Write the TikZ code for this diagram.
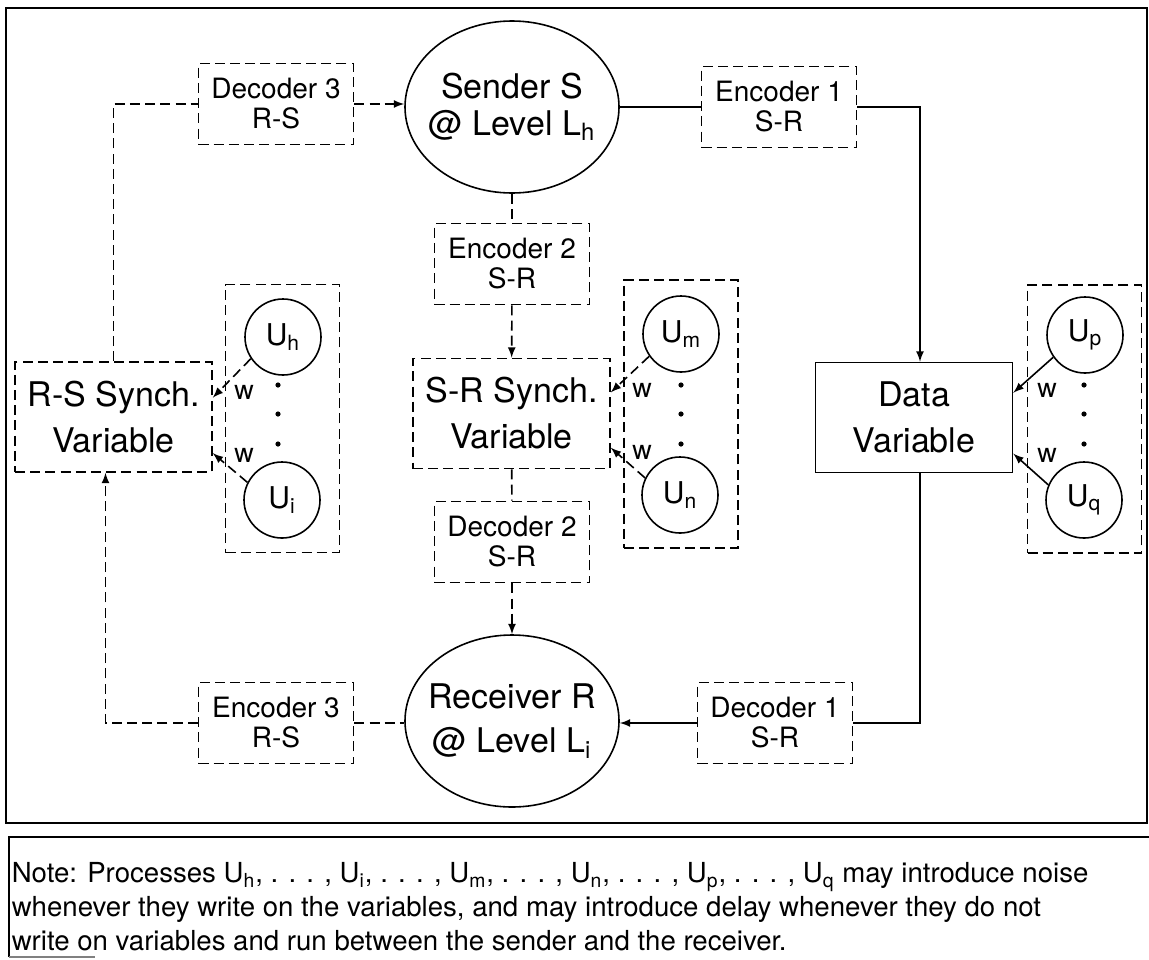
\documentclass[tikz,border=0pt]{standalone}
\usepackage{fontspec}
\setmainfont{TeX Gyre Heros}
\usetikzlibrary{shapes.geometric}

\begin{document}
\begin{tikzpicture}
    [
    x=0.5pt, y=-0.5pt,
    line width=0.8pt,
    dsh/.style={dash pattern=on 5pt off 2.6pt},
    proc/.style={ellipse,draw,minimum width=107pt,minimum height=86pt,inner xsep=-8pt,inner ysep=0pt,align=center,font=\fontsize{17}{22}\selectfont},
    coder/.style={rectangle,draw,dsh,minimum width=77.5pt,minimum height=40.5pt,inner sep=2pt,align=center,font=\fontsize{14}{15}\selectfont},
    var/.style={rectangle,draw,minimum width=98.5pt,minimum height=55pt,inner sep=2pt,align=center,font=\fontsize{17}{23}\selectfont},
    group/.style={rectangle,draw,dsh,minimum width=57pt,minimum height=134pt,inner sep=0pt},
    user/.style={circle,draw,minimum size=38pt,inner sep=0pt,font=\fontsize{15}{15}\selectfont},
    wlab/.style={inner sep=0pt,font=\fontsize{13.5}{13.5}\selectfont}
    ]
    \useasboundingbox (0,0) rectangle (1149,959);
    \draw [line width=1.2pt] (6,8) rectangle (1147,823);
    \draw [line width=1.2pt] (1149,837) -- (9,837) -- (9,957);
    \draw [gray] (9,957) -- (95,957);
    \node (sender) at (512,107) [proc,font=\fontsize{17}{18.5}\selectfont] {Sender S\\@ Level L\textsubscript{h}};
    \node (recv) at (512,721) [proc] {Receiver R\\@ Level L\textsubscript{i}};
    \node (dec3) at (276,104) [coder] {Decoder 3\\R-S};
    \node (enc1) at (779,107) [coder] {Encoder 1\\S-R};
    \node (enc2) at (512,264) [coder] {Encoder 2\\S-R};
    \node (dec2) at (512,542) [coder] {Decoder 2\\S-R};
    \node (enc3) at (276,723) [coder] {Encoder 3\\R-S};
    \node (dec1) at (775,723) [coder] {Decoder 1\\S-R};
    \node (rs) at (113.5,417) [var,dsh] {R-S Synch.\\Variable};
    \node (sr) at (511.5,413.5) [var,dsh] {S-R Synch.\\Variable};
    \node (data) at (914,417.5) [var] {Data\\Variable};
    \node (gh) at (282.5,418.5) [group] {};
    \node (gm) at (681,414) [group] {};
    \node (gp) at (1084.5,419) [group] {};
    \node (uh) at (283,337) [user] {U\textsubscript{h}};
    \node (ui) at (282,500) [user] {U\textsubscript{i}};
    \node (um) at (681,334) [user] {U\textsubscript{m}};
    \node (un) at (680,495) [user] {U\textsubscript{n}};
    \node (up) at (1085,335) [user] {U\textsubscript{p}};
    \node (uq) at (1084,500) [user] {U\textsubscript{q}};
    \node (wh) at (244,392) [wlab] {w};
    \node (wi) at (244,455) [wlab] {w};
    \node (wm) at (642,390) [wlab] {w};
    \node (wn) at (642,452) [wlab] {w};
    \node (wp) at (1047,390) [wlab] {w};
    \node (wq) at (1047,455) [wlab] {w};
    \foreach \x in {278,681,1084}
        \foreach \y in {385,414,444}
            \fill (\x,\y) circle (1.3pt);
    \draw [dsh] (rs.north) |- (dec3.west);
    \draw [dsh,-latex] (dec3.east) -- (dec3.east -| sender.west);
    \draw (sender.east) -- (enc1.west);
    \draw [-latex] (enc1.east) -| ([xshift=3pt]data.north);
    \draw ([xshift=3pt]data.south) |- (dec1.east);
    \draw [-latex] (dec1.west) -- (dec1.west -| recv.east);
    \draw [dsh] (enc3.east) -- (enc3.east -| recv.west);
    \draw [dsh,-latex] (enc3.west) -| ([xshift=-4pt]rs.south);
    \draw [dsh] (sender) -- (enc2);
    \draw [dsh,-latex] (enc2) -- (sr);
    \draw [dsh] (sr) -- (dec2);
    \draw [dsh,-latex] (dec2) -- (recv);
    \draw [dsh,-latex] (uh.214) -- (rs.11);
    \draw [dsh,-latex] (ui.153) -- (rs.-20);
    \draw [dsh,-latex] (um.215) -- (sr.12);
    \draw [dsh,-latex] (un.154) -- (sr.-19);
    \draw [-latex] (up.215) -- (data.14);
    \draw [-latex] (uq.157) -- (data.-20);
    \node (note) at (11,862) [anchor=north west,inner sep=0pt,align=left,font=\fontsize{13.8}{17}\selectfont]
        {Note: Processes U\textsubscript{h}, . . . , U\textsubscript{i}, . . . , U\textsubscript{m}, . . . , U\textsubscript{n}, . . . , U\textsubscript{p}, . . . , U\textsubscript{q} may introduce noise\\
        whenever they write on the variables, and may introduce delay whenever they do not\\
        write on variables and run between the sender and the receiver.};
\end{tikzpicture}
\end{document}
